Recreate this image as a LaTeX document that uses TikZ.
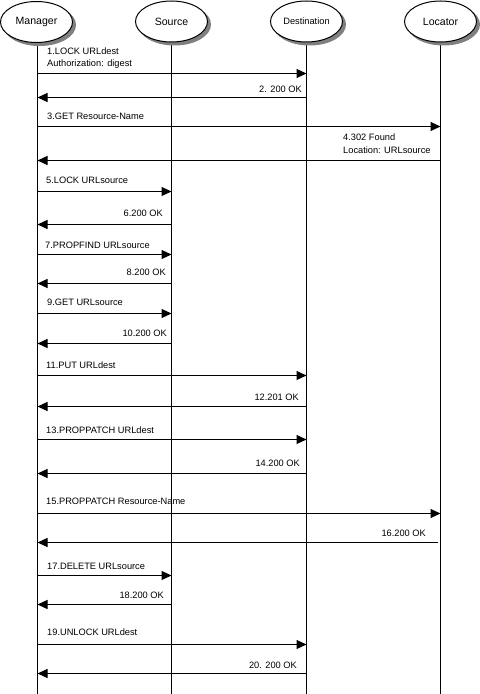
\documentclass[tikz,border=0pt]{standalone}
\usepackage{fontspec}
\setmainfont{Liberation Sans}
\usetikzlibrary{arrows.meta,shapes.geometric}
\begin{document}
\begin{tikzpicture}[x=1bp,y=-1bp,
  actor/.style={ellipse, draw, line width=1bp, fill=white, minimum width=72bp, minimum height=41bp, inner sep=0pt},
  shade/.style={ellipse, fill=gray, draw=gray, line width=1bp, minimum width=72bp, minimum height=41bp, inner sep=0pt},
  life/.style={line width=1bp},
  msg/.style={line width=1bp, -{Triangle[length=10bp,width=9bp]}},
  lbl/.style={inner sep=0pt, font=\fontsize{9.3}{11}\selectfont},
  big/.style={font=\fontsize{10.6}{12}\selectfont}
]
\useasboundingbox (0,0) rectangle (480,694);
\def\xM{37.5}\def\xS{171.5}\def\xD{306.5}\def\xL{440.5}
% lifelines
\coordinate (Mtop) at (\xM,40); \coordinate (Mbot) at (\xM,694);
\coordinate (Stop) at (\xS,40); \coordinate (Sbot) at (\xS,694);
\coordinate (Dtop) at (\xD,40); \coordinate (Dbot) at (\xD,694);
\coordinate (Ltop) at (\xL,40); \coordinate (Lbot) at (\xL,694);
\draw[life] (Mtop) -- (Mbot);
\draw[life] (Stop) -- (Sbot);
\draw[life] (Dtop) -- (Dbot);
\draw[life] (Ltop) -- (Lbot);
% actor shadows
\node[shade] (Msh) at (39.5,25) {};
\node[shade] (Ssh) at (174.5,24.5) {};
\node[shade] (Dsh) at (309.5,24.5) {};
\node[shade] (Lsh) at (443.5,24.5) {};
% actors
\node[actor, big] (M) at (36.5,22) {Manager};
\node[actor, big] (S) at (171.5,21.5) {Source};
\node[actor, lbl] (D) at (306.5,21.5) {Destination};
\node[actor, big] (L) at (440.5,21.5) {Locator};
% 1
\coordinate (s1) at (\xM,73.5); \coordinate (e1) at (\xD,73.5);
\draw[msg] (s1) -- (e1);
\node[lbl, anchor=mid west] (l1a) at (47,52) {1.LOCK URLdest};
\node[lbl, anchor=mid west] (l1b) at (47,64) {Authorization: digest};
% 2
\coordinate (s2) at (\xD,97.5); \coordinate (e2) at (\xM,97.5);
\draw[msg] (s2) -- (e2);
\node[lbl, anchor=mid east] (l2) at (302,90) {2. 200 OK};
% 3
\coordinate (s3) at (\xM,126.5); \coordinate (e3) at (\xL,126.5);
\draw[msg] (s3) -- (e3);
\node[lbl, anchor=mid west] (l3) at (47,117) {3.GET Resource-Name};
% 4
\coordinate (s4) at (\xL,160.5); \coordinate (e4) at (\xM,160.5);
\draw[msg] (s4) -- (e4);
\node[lbl, anchor=mid west] (l4a) at (343,138) {4.302 Found};
\node[lbl, anchor=mid west] (l4b) at (343,151) {Location: URLsource};
% 5
\coordinate (s5) at (\xM,191.5); \coordinate (e5) at (\xS,191.5);
\draw[msg] (s5) -- (e5);
\node[lbl, anchor=mid west] (l5) at (46,181) {5.LOCK URLsource};
% 6
\coordinate (s6) at (\xS,224.5); \coordinate (e6) at (\xM,224.5);
\draw[msg] (s6) -- (e6);
\node[lbl, anchor=mid east] (l6) at (163,214) {6.200 OK};
% 7
\coordinate (s7) at (\xM,254.5); \coordinate (e7) at (\xS,254.5);
\draw[msg] (s7) -- (e7);
\node[lbl, anchor=mid west] (l7) at (45,245.5) {7.PROPFIND URLsource};
% 8
\coordinate (s8) at (\xS,283.5); \coordinate (e8) at (\xM,283.5);
\draw[msg] (s8) -- (e8);
\node[lbl, anchor=mid east] (l8) at (166,272.5) {8.200 OK};
% 9
\coordinate (s9) at (\xM,313.5); \coordinate (e9) at (\xS,313.5);
\draw[msg] (s9) -- (e9);
\node[lbl, anchor=mid west] (l9) at (47,303) {9.GET URLsource};
% 10
\coordinate (s10) at (\xS,343.5); \coordinate (e10) at (\xM,343.5);
\draw[msg] (s10) -- (e10);
\node[lbl, anchor=mid east] (l10) at (167,333.5) {10.200 OK};
% 11
\coordinate (s11) at (\xM,375.5); \coordinate (e11) at (\xD,375.5);
\draw[msg] (s11) -- (e11);
\node[lbl, anchor=mid west] (l11) at (46,366) {11.PUT URLdest};
% 12
\coordinate (s12) at (\xD,406.5); \coordinate (e12) at (\xM,406.5);
\draw[msg] (s12) -- (e12);
\node[lbl, anchor=mid east] (l12) at (299,397.5) {12.201 OK};
% 13
\coordinate (s13) at (\xM,439.5); \coordinate (e13) at (\xD,439.5);
\draw[msg] (s13) -- (e13);
\node[lbl, anchor=mid west] (l13) at (46,430.5) {13.PROPPATCH URLdest};
% 14
\coordinate (s14) at (\xD,473.5); \coordinate (e14) at (\xM,473.5);
\draw[msg] (s14) -- (e14);
\node[lbl, anchor=mid east] (l14) at (300,463.5) {14.200 OK};
% 15
\coordinate (s15) at (\xM,513.5); \coordinate (e15) at (\xL,513.5);
\draw[msg] (s15) -- (e15);
\node[lbl, anchor=mid west] (l15) at (46,502) {15.PROPPATCH Resource-Name};
% 16
\coordinate (s16) at (437.5,542.5); \coordinate (e16) at (\xM,542.5);
\draw[msg] (s16) -- (e16);
\node[lbl, anchor=mid east] (l16) at (426,534) {16.200 OK};
% 17
\coordinate (s17) at (\xM,575.5); \coordinate (e17) at (\xS,575.5);
\draw[msg] (s17) -- (e17);
\node[lbl, anchor=mid west] (l17) at (47,567) {17.DELETE URLsource};
% 18
\coordinate (s18) at (\xS,604.5); \coordinate (e18) at (\xM,604.5);
\draw[msg] (s18) -- (e18);
\node[lbl, anchor=mid east] (l18) at (164,596) {18.200 OK};
% 19
\coordinate (s19) at (\xM,644.5); \coordinate (e19) at (\xD,644.5);
\draw[msg] (s19) -- (e19);
\node[lbl, anchor=mid west] (l19) at (47,633) {19.UNLOCK URLdest};
% 20
\coordinate (s20) at (\xD,673.5); \coordinate (e20) at (\xM,673.5);
\draw[msg] (s20) -- (e20);
\node[lbl, anchor=mid east] (l20) at (297,666) {20. 200 OK};
\end{tikzpicture}
\end{document}
